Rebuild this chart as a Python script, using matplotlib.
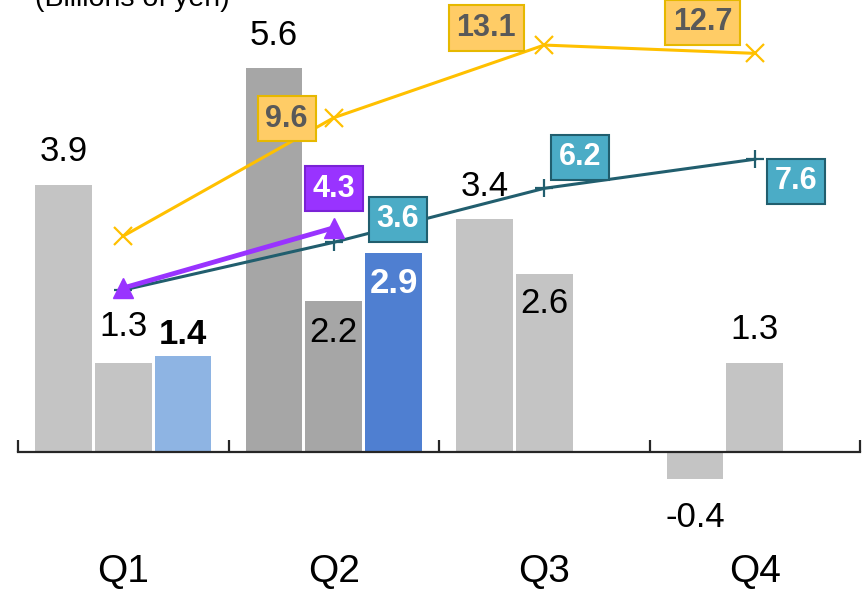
import matplotlib
matplotlib.use("Agg")
import matplotlib.pyplot as plt
import numpy as np

plt.rcParams['font.family'] = ['Liberation Sans', 'DejaVu Sans']

# quarterly profit, billions of yen
quarters = ['Q1', 'Q2', 'Q3', 'Q4']
fy_a = [3.9, 5.6, 3.4, -0.4]
fy_b = [1.3, 2.2, 2.6, 1.3]
fy_c = [1.4, 2.9]

# cumulative totals
cum_a = [3.9, 9.6, 13.1, 12.7]
cum_b = [1.3, 3.6, 6.2, 7.6]
cum_c = [1.4, 4.3]

col_a = ['#c4c4c4', '#a6a6a6', '#c4c4c4', '#c4c4c4']
col_b = ['#c4c4c4', '#a6a6a6', '#c4c4c4', '#c4c4c4']
col_c = ['#8eb4e3', '#4f7fd1']

# label offsets (pixels) relative to bar end
off_a = [33, 33, 33, -38]
off_b = [36, -31, -30, 33]
off_c = [22, -30]

fig = plt.figure(figsize=(8.65, 5.93), dpi=100)
ax = fig.add_axes([18 / 865, 0, 842 / 865, 1])
ax.set_xlim(-0.5, 3.5)
ax.set_ylim(-2.058, 6.599)

x = np.arange(len(quarters))
w = 0.27
step = 0.284

ax.bar(x - step, fy_a, w, color=col_a, zorder=2)
ax.bar(x, fy_b, w, color=col_b, zorder=2)
ax.bar(x[:len(fy_c)] + step, fy_c, w, color=col_c, zorder=2)

lab_fs = 25
for i, v in enumerate(fy_a):
    ax.annotate(f'{v:.1f}', (x[i] - step, v), xytext=(0, off_a[i]),
                textcoords='offset pixels', ha='center', va='center',
                fontsize=lab_fs, color='black', zorder=5)
for i, v in enumerate(fy_b):
    ax.annotate(f'{v:.1f}', (x[i], v), xytext=(0, off_b[i]),
                textcoords='offset pixels', ha='center', va='center',
                fontsize=lab_fs, color='black', zorder=5)
for i, v in enumerate(fy_c):
    ax.annotate(f'{v:.1f}', (x[i] + step, v), xytext=(0, off_c[i]),
                textcoords='offset pixels', ha='center', va='center',
                fontsize=lab_fs, fontweight='bold',
                color='black' if i == 0 else 'white', zorder=5)

for side in ['top', 'right', 'left']:
    ax.spines[side].set_visible(False)
ax.spines['bottom'].set_position(('data', 0))
ax.spines['bottom'].set_linewidth(1.6)
ax.spines['bottom'].set_color('#262626')
ax.set_xticks(np.arange(-0.5, 4, 1))
ax.tick_params(axis='x', direction='in', length=8.5, width=1.6,
               color='#262626', labelbottom=False)
ax.set_yticks([])

for i, q in enumerate(quarters):
    ax.text(x[i], 0.035, q, transform=ax.get_xaxis_transform(),
            ha='center', va='center', fontsize=28)

fig.text(132 / 865, 1 - 6 / 593, '(Billions of yen)', ha='center',
         va='baseline', fontsize=20.5)

# cumulative lines on a second scale
ax2 = ax.twinx()
ax2.set_ylim(-13.29, 15.27)
for s in ax2.spines.values():
    s.set_visible(False)
ax2.set_yticks([])

ax2.plot(x, cum_a, color='#ffc000', lw=2.2, marker='x', ms=13, mew=1.6, zorder=3)
ax2.plot(x, cum_b, color='#215e6e', lw=2.2, marker='+', ms=13, mew=1.6, zorder=3)
ax2.plot(x[:len(cum_c)], cum_c, color='#9933ff', lw=3.5, marker='^', ms=14, zorder=4)

box_fs = 22
yel = dict(boxstyle='square,pad=0.25', fc='#ffcc66', ec='#e6b800', lw=1.5)
teal = dict(boxstyle='square,pad=0.25', fc='#4bacc6', ec='#215e6e', lw=1.5)
purp = dict(boxstyle='square,pad=0.25', fc='#9933ff', ec='#7a22d6', lw=1.5)

yel_off = [None, (-47, -1), (-58, 17), (-52, 31)]
teal_off = [None, (64, 23), (36, 31), (41, -22)]
purp_off = [None, (0, 39)]

for i, v in enumerate(cum_a):
    if yel_off[i] is None:
        continue
    ax2.annotate(f'{v:.1f}', (x[i], v), xytext=yel_off[i], textcoords='offset pixels',
                 ha='center', va='center', fontsize=box_fs, fontweight='bold',
                 color='#595959', bbox=yel, zorder=6)
for i, v in enumerate(cum_b):
    if teal_off[i] is None:
        continue
    ax2.annotate(f'{v:.1f}', (x[i], v), xytext=teal_off[i], textcoords='offset pixels',
                 ha='center', va='center', fontsize=box_fs, fontweight='bold',
                 color='white', bbox=teal, zorder=6)
for i, v in enumerate(cum_c):
    if purp_off[i] is None:
        continue
    ax2.annotate(f'{v:.1f}', (x[i], v), xytext=purp_off[i], textcoords='offset pixels',
                 ha='center', va='center', fontsize=box_fs, fontweight='bold',
                 color='white', bbox=purp, zorder=6)

fig.savefig('out.png', dpi=100)
